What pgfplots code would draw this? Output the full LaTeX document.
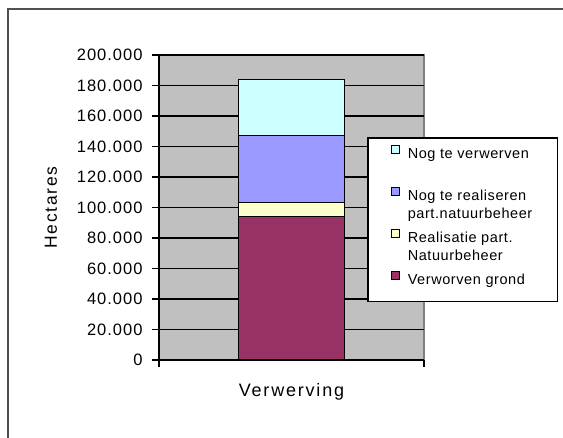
\documentclass[border=0pt]{standalone}
\usepackage{pgfplots}
\pgfplotsset{compat=1.18}
\usepackage{fontspec}
\setmainfont{Liberation Sans}
\setsansfont{Liberation Sans}
\newfontfamily\tickfont[LetterSpace=6]{Liberation Sans}
\newfontfamily\labfont[LetterSpace=10]{Liberation Sans}
\newfontfamily\legfont[LetterSpace=4]{Liberation Sans}
\definecolor{cMaroon}{HTML}{993366}
\definecolor{cYellow}{HTML}{FFFFCC}
\definecolor{cBlue}{HTML}{9999FF}
\definecolor{cCyan}{HTML}{CCFFFF}
\definecolor{cPlot}{HTML}{C0C0C0}
\definecolor{cBorder}{HTML}{808080}
\definecolor{cFrame}{HTML}{505050}
\begin{document}
\begin{tikzpicture}
\useasboundingbox (-159pt,-77pt) rectangle (404pt,360pt);
\fill[white] (-159pt,-77pt) rectangle (404pt,360pt);
\draw[line width=2pt, cFrame] (-150.5pt,-95pt) rectangle (420pt,351pt);
\begin{axis}[
  scale only axis, width=265pt, height=305pt,
  ybar stacked, bar width=106pt,
  xmin=-1, xmax=1, ymin=0, ymax=200000,
  axis lines*=left,
  axis line style={line width=1.5pt, black},
  axis background/.style={fill=cPlot, draw=cBorder, line width=2pt},
  ytick={0,20000,...,200000},
  scaled y ticks=false,
  /pgf/number format/assume math mode=true,
  yticklabel style={/pgf/number format/.cd, fixed, 1000 sep={.}, /tikz/.cd, xshift=-6pt},
  ticklabel style={font=\tickfont\fontsize{16.5}{18}\selectfont},
  tick align=outside,
  major tick length=7pt,
  tick style={line width=1.5pt, black},
  ymajorgrids=true,
  grid style={line width=1.5pt, black},
  xtick={-1,1}, xticklabels={,},
  extra x ticks={0}, extra x tick labels={Verwerving},
  extra x tick style={major tick length=0pt, xmajorgrids=false,
     xticklabel style={font=\labfont\fontsize{18}{20}\selectfont, yshift=-20pt}},
  ylabel={Hectares},
  ylabel style={font=\labfont\fontsize{17.5}{20}\selectfont,
     at={(axis description cs:-0.385,0.5)}, anchor=base},
  reverse legend,
  legend image code/.code={\draw[#1, line width=1pt] (0pt,-8pt) rectangle (8pt,0pt);},
  legend style={at={(0.785,0.731)}, anchor=north west, draw=black, line width=1.5pt,
     fill=white, font=\legfont\fontsize{14.5}{18}\selectfont,
     cells={anchor=north west, align=left},
     inner xsep=23pt, inner ysep=7pt, row sep=7pt, column sep=6pt},
]
\addplot[fill=cMaroon, draw=black, line width=1.2pt] coordinates {(0,94000)};
\addlegendentry{Verworven grond\\[-12pt]\mbox{}}
\addplot[fill=cYellow, draw=black, line width=1.2pt] coordinates {(0,9400)};
\addlegendentry{Realisatie part.\\Natuurbeheer}
\addplot[fill=cBlue, draw=black, line width=1.2pt] coordinates {(0,43700)};
\addlegendentry{Nog te realiseren\\part.natuurbeheer}
\addplot[fill=cCyan, draw=black, line width=1.2pt] coordinates {(0,36700)};
\addlegendentry{Nog te verwerven\\\mbox{}}
\end{axis}
\end{tikzpicture}
\end{document}
